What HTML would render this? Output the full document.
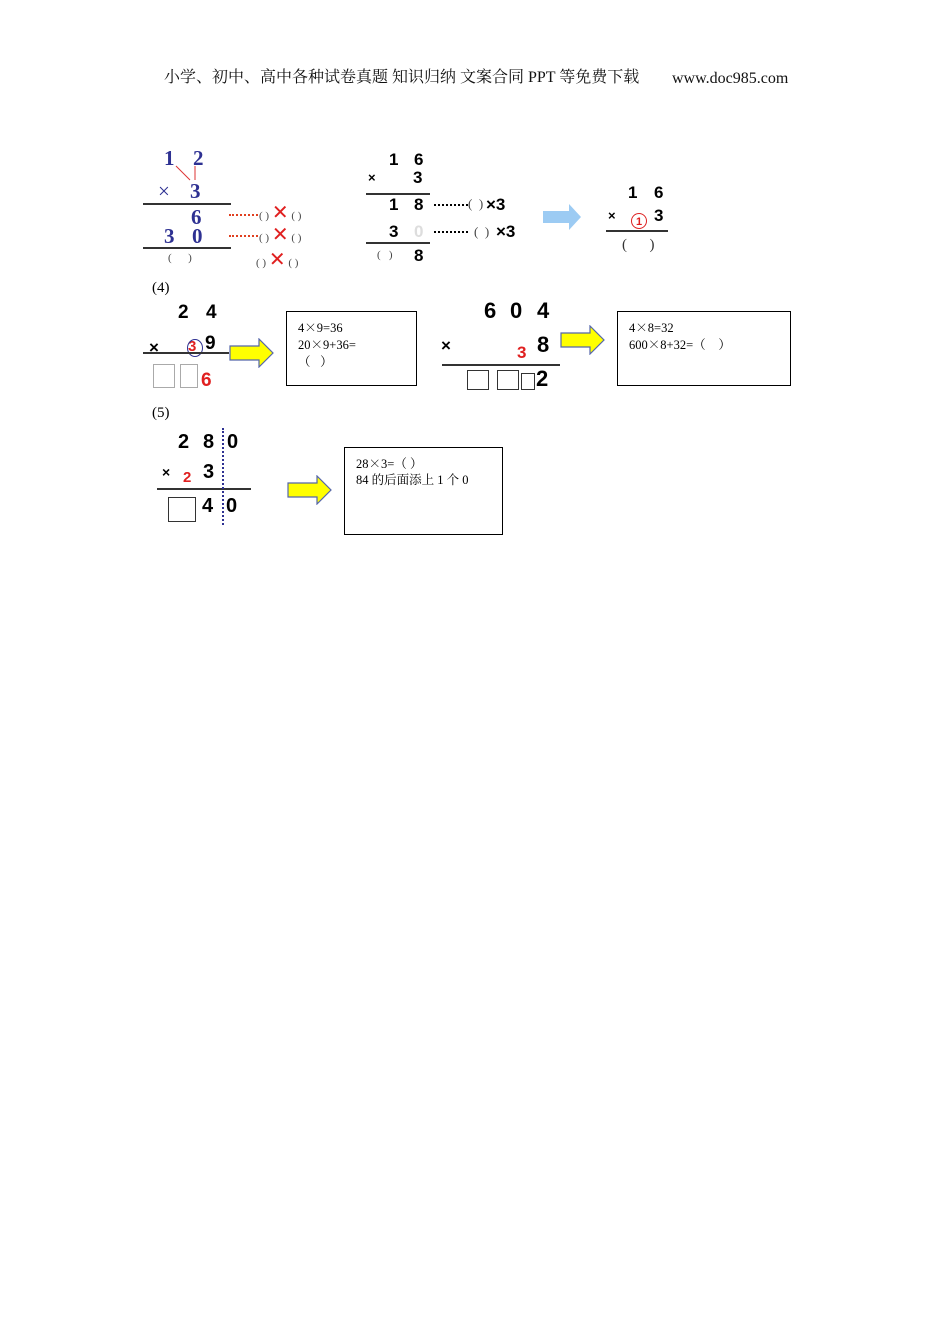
<!DOCTYPE html>
<html><head><meta charset="utf-8"><style>
body{margin:0;width:950px;height:1344px;background:#fff;position:relative;overflow:hidden}
.t{position:absolute;white-space:nowrap;line-height:1}
.s{font-family:"Liberation Serif","Noto Serif CJK SC",serif}
.a{font-family:"Liberation Sans",sans-serif;font-weight:bold}
.b{color:#2e3192;font-family:"Liberation Serif",serif;font-weight:bold;font-size:21px}
.r{color:#e02020}
.ln{position:absolute;height:1.5px;background:#333}
.box{position:absolute;border:1px solid #000;font-family:"Liberation Serif","Noto Serif CJK SC",serif;font-size:12.5px;line-height:16px;padding:7px 11px;box-sizing:border-box}
.c{font-family:"Noto Serif CJK SC",serif}
.sq{position:absolute;border:1px solid #333;background:#fff}
.dots{position:absolute;border-top:2.5px dotted #e04020;height:0}
.kd{position:absolute;border-top:2.5px dotted #000;height:0}
.p{font-size:11px;color:#444}
</style></head><body>
<div class="t s" style="left:164px;top:70px;font-size:16px;color:#111">小学、初中、高中各种试卷真题 知识归纳 文案合同 PPT 等免费下载</div>
<div class="t s" style="left:672px;top:71px;font-size:16px;color:#111">www.doc985.com</div>

<!-- block 1 -->
<div class="t b" style="left:164px;top:148px">1</div>
<div class="t b" style="left:193px;top:148px">2</div>
<svg style="position:absolute;left:170px;top:160px" width="40" height="25"><line x1="20" y1="20" x2="6" y2="6" stroke="#d33" stroke-width="1"/><line x1="25" y1="20" x2="25" y2="6" stroke="#d33" stroke-width="1"/></svg>
<div class="t b" style="left:158px;top:181px;font-weight:normal">×</div>
<div class="t b" style="left:190px;top:181px">3</div>
<div class="ln" style="left:143px;top:203px;width:88px"></div>
<div class="t b" style="left:191px;top:207px">6</div>
<div class="t b" style="left:164px;top:226px">3</div>
<div class="t b" style="left:192px;top:226px">0</div>
<div class="ln" style="left:143px;top:247px;width:88px"></div>
<div class="t s p" style="left:168px;top:253px">(&nbsp;&nbsp;&nbsp;&nbsp;&nbsp;&nbsp;)</div>
<div class="dots" style="left:229px;top:214px;width:29px"></div>
<div class="dots" style="left:229px;top:235px;width:29px"></div>
<div class="t s p" style="left:259px;top:203px">( ) <span class="r" style="font-size:20px">✕</span> ( )</div>
<div class="t s p" style="left:259px;top:225px">( ) <span class="r" style="font-size:20px">✕</span> ( )</div>
<div class="t s p" style="left:256px;top:250px">( ) <span class="r" style="font-size:20px">✕</span> ( )</div>

<!-- block 2 -->
<div class="t a" style="left:389px;top:151px;font-size:17px">1</div>
<div class="t a" style="left:414px;top:151px;font-size:17px">6</div>
<div class="t a" style="left:368px;top:171px;font-size:13px">×</div>
<div class="t a" style="left:413px;top:169px;font-size:17px">3</div>
<div class="ln" style="left:366px;top:193px;width:64px"></div>
<div class="t a" style="left:389px;top:196px;font-size:17px">1</div>
<div class="t a" style="left:414px;top:196px;font-size:17px">8</div>
<div class="kd" style="left:434px;top:204px;width:34px"></div>
<div class="t s p" style="left:468px;top:197px;font-size:13px">(&nbsp;&nbsp;)</div>
<div class="t a" style="left:486px;top:196px;font-size:17px">×3</div>
<div class="t a" style="left:389px;top:223px;font-size:17px">3</div>
<div class="t a" style="left:414px;top:223px;font-size:17px;color:#ddd">0</div>
<div class="kd" style="left:434px;top:231px;width:34px"></div>
<div class="t s p" style="left:474px;top:225px;font-size:13px">(&nbsp;&nbsp;)</div>
<div class="t a" style="left:496px;top:223px;font-size:17px">×3</div>
<div class="ln" style="left:366px;top:242px;width:64px"></div>
<div class="t s p" style="left:377px;top:250px">(&nbsp;&nbsp;&nbsp;)</div>
<div class="t a" style="left:414px;top:247px;font-size:17px">8</div>
<svg style="position:absolute;left:543px;top:203px" width="40" height="28"><polygon points="0,8 26,8 26,1 38,14 26,27 26,20 0,20" fill="#9ccbf3"/></svg>

<!-- block 3 -->
<div class="t a" style="left:628px;top:184px;font-size:17px">1</div>
<div class="t a" style="left:654px;top:184px;font-size:17px">6</div>
<div class="t a" style="left:608px;top:209px;font-size:13px">×</div>
<div class="t r" style="left:631px;top:213px;width:16px;height:16px;border:1.5px solid #d22;border-radius:50%;font:bold 11px 'Liberation Sans',sans-serif;text-align:center;line-height:16px;box-sizing:border-box">1</div>
<div class="t a" style="left:654px;top:207px;font-size:17px">3</div>
<div class="ln" style="left:606px;top:230px;width:62px"></div>
<div class="t s" style="left:622px;top:238px;font-size:15px;color:#333">(&nbsp;&nbsp;&nbsp;&nbsp;&nbsp;&nbsp;)</div>

<!-- (4) -->
<div class="t s" style="left:152px;top:281px;font-size:15px">(4)</div>
<div class="t a" style="left:178px;top:303px;font-size:19px">2</div>
<div class="t a" style="left:206px;top:303px;font-size:19px">4</div>
<div class="t a" style="left:149px;top:339px;font-size:17px">×</div>
<div class="t a r" style="left:188px;top:339px;font-size:15px">3</div>
<div style="position:absolute;left:187px;top:339px;width:14px;height:16px;border:1px solid #2e3192;border-radius:50%"></div>
<div class="t a" style="left:205px;top:334px;font-size:19px">9</div>
<div class="ln" style="left:143px;top:352px;width:86px"></div>
<div class="sq" style="left:153px;top:364px;width:20px;height:22px;border-color:#aaa"></div>
<div class="sq" style="left:180px;top:364px;width:16px;height:22px;border-color:#aaa"></div>
<div class="t a r" style="left:201px;top:371px;font-size:19px">6</div>
<svg style="position:absolute;left:229px;top:338px" width="46" height="30"><polygon points="1,8 30,8 30,1 44,15 30,29 30,22 1,22" fill="#ffff00" stroke="#5566aa" stroke-width="1.2"/></svg>
<div class="box" style="left:286px;top:311px;width:131px;height:75px">4<span class="c">×</span>9=36<br>20<span class="c">×</span>9+36=<br><span class="c">（&nbsp;&nbsp;&nbsp;）</span></div>

<div class="t a" style="left:484px;top:300px;font-size:22px">6</div>
<div class="t a" style="left:510px;top:300px;font-size:22px">0</div>
<div class="t a" style="left:537px;top:300px;font-size:22px">4</div>
<div class="t a" style="left:441px;top:337px;font-size:17px">×</div>
<div class="t a r" style="left:517px;top:344px;font-size:17px">3</div>
<div class="t a" style="left:537px;top:334px;font-size:22px">8</div>
<div class="ln" style="left:442px;top:364px;width:118px;height:2px"></div>
<div class="sq" style="left:467px;top:370px;width:20px;height:18px"></div>
<div class="sq" style="left:497px;top:370px;width:20px;height:18px"></div>
<div class="sq" style="left:521px;top:373px;width:12px;height:15px"></div>
<div class="t a" style="left:536px;top:368px;font-size:22px">2</div>
<svg style="position:absolute;left:560px;top:325px" width="46" height="30"><polygon points="1,8 30,8 30,1 44,15 30,29 30,22 1,22" fill="#ffff00" stroke="#5566aa" stroke-width="1.2"/></svg>
<div class="box" style="left:617px;top:311px;width:174px;height:75px">4<span class="c">×</span>8=32<br>600<span class="c">×</span>8+32=<span class="c">（&nbsp;&nbsp;&nbsp;&nbsp;）</span></div>

<!-- (5) -->
<div class="t s" style="left:152px;top:406px;font-size:15px">(5)</div>
<div class="t a" style="left:178px;top:432px;font-size:20px">2</div>
<div class="t a" style="left:203px;top:432px;font-size:20px">8</div>
<div class="t a" style="left:227px;top:432px;font-size:20px">0</div>
<div class="t a" style="left:162px;top:465px;font-size:14px">×</div>
<div class="t a r" style="left:183px;top:470px;font-size:15px">2</div>
<div class="t a" style="left:203px;top:462px;font-size:20px">3</div>
<div class="ln" style="left:157px;top:488px;width:94px;height:2px"></div>
<div class="sq" style="left:168px;top:497px;width:26px;height:23px;border-width:1.5px"></div>
<div class="t a" style="left:202px;top:496px;font-size:20px">4</div>
<div class="t a" style="left:226px;top:496px;font-size:20px">0</div>
<div style="position:absolute;left:222px;top:428px;height:97px;border-left:2px dotted #2e3192"></div>
<svg style="position:absolute;left:287px;top:475px" width="46" height="30"><polygon points="1,8 30,8 30,1 44,15 30,29 30,22 1,22" fill="#ffff00" stroke="#5566aa" stroke-width="1.2"/></svg>
<div class="box" style="left:344px;top:447px;width:159px;height:88px">28<span class="c">×</span>3=<span class="c">（ ）</span><br>84 的后面添上 1 个 0</div>
</body></html>
